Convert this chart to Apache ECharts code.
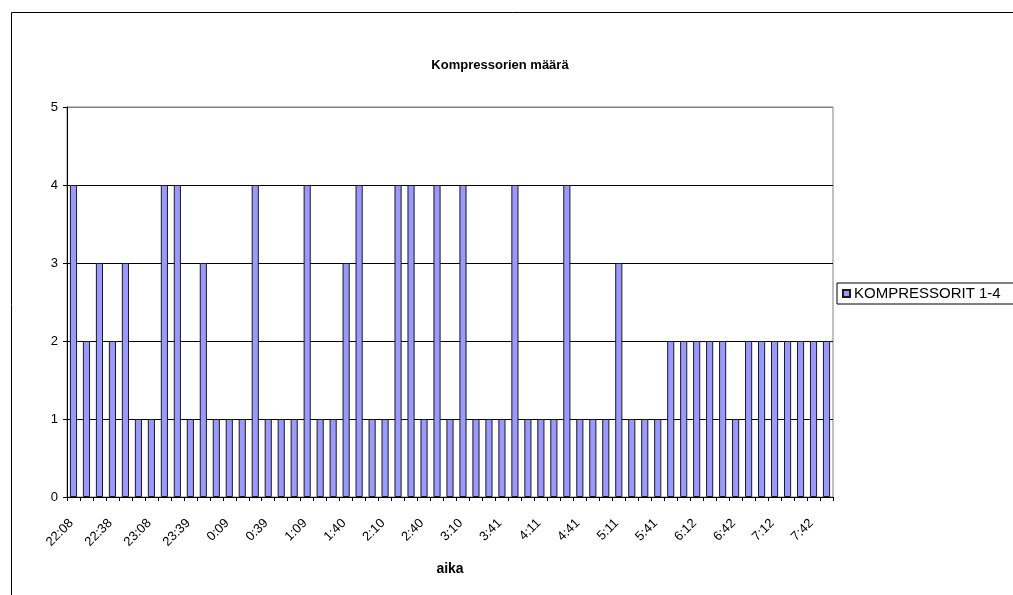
<!DOCTYPE html>
<html>
<head>
<meta charset="utf-8">
<script src="https://cdn.jsdelivr.net/npm/echarts@6/dist/echarts.min.js"></script>
<style>
  html, body { margin: 0; padding: 0; background: #fff; }
  #chart { width: 1013px; height: 595px; }
</style>
</head>
<body>
<div id="chart"></div>
<script>
// Measurement times (about every 10 minutes through the night)
const times = [
  '22:08','22:18','22:28','22:38','22:48','22:58','23:08','23:18','23:29','23:39',
  '23:49','23:59','0:09','0:19','0:29','0:39','0:49','0:59','1:09','1:19',
  '1:30','1:40','1:50','2:00','2:10','2:20','2:30','2:40','2:50','3:00',
  '3:10','3:20','3:31','3:41','3:51','4:01','4:11','4:21','4:31','4:41',
  '4:51','5:01','5:11','5:21','5:31','5:41','5:51','6:02','6:12','6:22',
  '6:32','6:42','6:52','7:02','7:12','7:22','7:32','7:42','7:52'
];

// Number of compressors running at each time
const compressors = [
  4,2,3,2,3,1,1,4,4,1,3,1,1,1,4,1,1,1,4,1,
  1,3,4,1,1,4,4,1,4,1,4,1,1,1,4,1,1,1,4,
  1,1,1,3,1,1,1,2,2,2,2,2,1,2,2,2,2,2,2,2
];

const yTicks = [0, 1, 2, 3, 4, 5];

const seriesName = 'KOMPRESSORIT 1-4';
const titleText = 'Kompressorien määrä';
const xName = 'aika';

const font = '"Liberation Sans", Arial, sans-serif';

const chart = echarts.init(document.getElementById('chart'), null, { renderer: 'canvas' });

chart.setOption({
  backgroundColor: '#fff',
  animation: false,
  textStyle: { fontFamily: font, color: '#000' },
  title: {
    text: titleText,
    left: 495,
    top: 54,
    textAlign: 'center',
    textStyle: { fontFamily: font, fontSize: 13, fontWeight: 'bold', color: '#000' }
  },
  legend: {
    data: [seriesName],
    left: 837,
    top: 283,
    orient: 'vertical',
    padding: [3, 40, 3, 5],
    itemWidth: 7,
    itemHeight: 7,
    itemGap: 4,
    icon: 'rect',
    borderColor: '#000',
    borderWidth: 1,
    textStyle: { fontFamily: font, fontSize: 15, color: '#000', padding: [0, 0, 0, -1] }
  },
  graphic: [{
    type: 'rect',
    shape: { x: 11.5, y: 12.5, width: 1200, height: 800 },
    style: { fill: 'none', stroke: '#000', lineWidth: 1 },
    silent: true,
    z: -10
  }],
  grid: {
    left: 67,
    right: 180,
    top: 107,
    bottom: 98,
    show: true,
    borderColor: '#808080',
    borderWidth: 1,
    backgroundColor: 'transparent'
  },
  xAxis: {
    type: 'category',
    data: times,
    name: xName,
    nameLocation: 'middle',
    nameGap: 65,
    nameTextStyle: { fontFamily: font, fontSize: 14, fontWeight: 'bold', color: '#000' },
    axisLine: { lineStyle: { color: '#000', width: 1 } },
    axisTick: { show: true, interval: 0, length: 4, lineStyle: { color: '#000' } },
    axisLabel: {
      interval: 2,
      rotate: 45,
      margin: 22,
      padding: [0, 3, 0, 0],
      fontFamily: font,
      fontSize: 13,
      color: '#000'
    },
    splitLine: { show: false }
  },
  yAxis: {
    type: 'value',
    min: yTicks[0],
    max: yTicks[yTicks.length - 1],
    interval: 1,
    axisLine: { show: true, lineStyle: { color: '#000', width: 1 } },
    axisTick: { show: true, length: 4, lineStyle: { color: '#000' } },
    axisLabel: { margin: 9, fontFamily: font, fontSize: 13, color: '#000' },
    splitLine: {
      show: true,
      lineStyle: { color: ['#000', '#000', '#000', '#000', '#000', '#808080'], width: 1 }
    }
  },
  series: [{
    name: seriesName,
    type: 'bar',
    data: compressors,
    barCategoryGap: '45%',
    itemStyle: {
      color: '#9999FF',
      borderColor: '#1a1a1a',
      borderWidth: 1
    }
  }]
});
</script>
</body>
</html>
